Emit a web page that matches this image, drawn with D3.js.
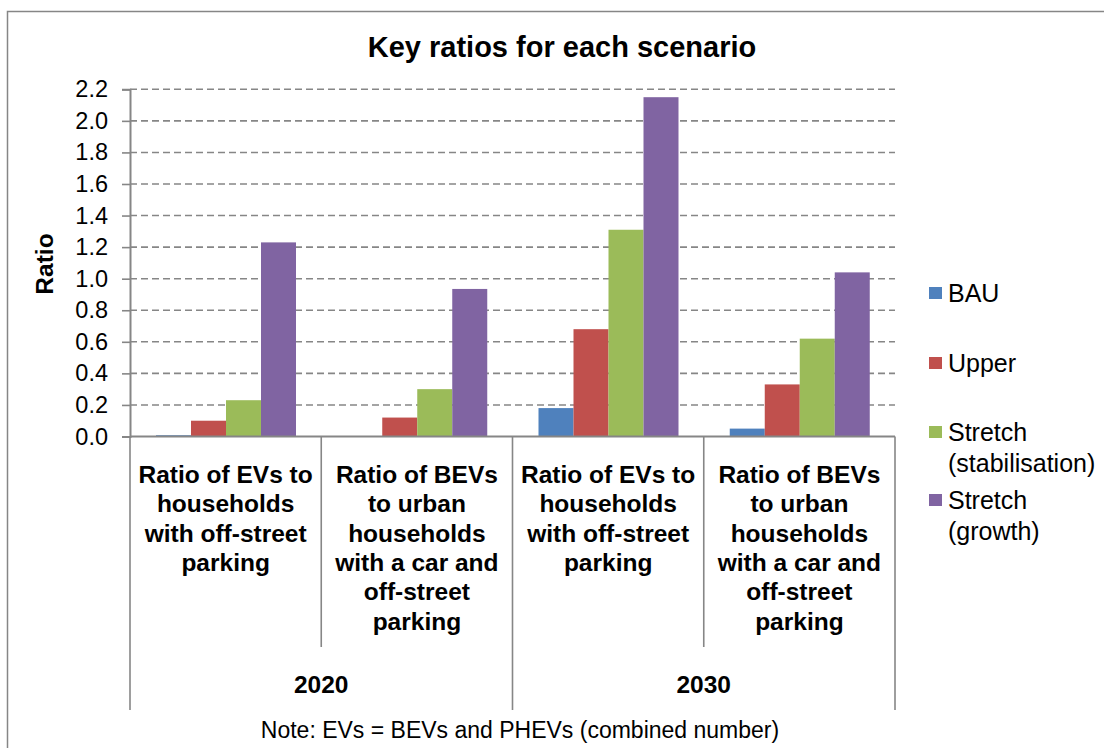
<!DOCTYPE html>
<html>
<head>
<meta charset="utf-8">
<script src="https://cdn.jsdelivr.net/npm/d3@7"></script>
<style>
  html, body { margin: 0; padding: 0; background: #fff; }
  svg { display: block; font-family: "Liberation Sans", Arial, sans-serif; }
</style>
</head>
<body>
<svg id="chart" width="1104" height="748"></svg>
<script>
// ---- data ----
const categories = ["2020 EVs", "2020 BEVs", "2030 EVs", "2030 BEVs"];
const categoryLabels = [
  ["Ratio of EVs to", "households", "with off-street", "parking"],
  ["Ratio of BEVs", "to urban", "households", "with a car and", "off-street", "parking"],
  ["Ratio of EVs to", "households", "with off-street", "parking"],
  ["Ratio of BEVs", "to urban", "households", "with a car and", "off-street", "parking"]
];
const years = ["2020", "2030"];
const seriesNames = ["BAU", "Upper", "Stretch (stabilisation)", "Stretch (growth)"];
const legendLines = [["BAU"], ["Upper"], ["Stretch", "(stabilisation)"], ["Stretch", "(growth)"]];
const colors = ["#4F81BD", "#C0504D", "#9BBB59", "#8064A2"];
const bau     = [0.008, 0.0, 0.18, 0.05];
const upper   = [0.10, 0.12, 0.68, 0.33];
const stabil  = [0.23, 0.30, 1.31, 0.62];
const growth  = [1.23, 0.935, 2.15, 1.04];
const seriesValues = [bau, upper, stabil, growth];
const yTicks = [0, 0.2, 0.4, 0.6, 0.8, 1.0, 1.2, 1.4, 1.6, 1.8, 2.0, 2.2];
const title = "Key ratios for each scenario";
const yTitle = "Ratio";
const note = "Note: EVs = BEVs and PHEVs (combined number)";

// ---- layout ----
const svg = d3.select("#chart");
const plotL = 130, plotR = 895, plotT = 89.3, plotB = 436.5;
const axisColor = "#868686";

svg.append("rect").attr("x", 7.5).attr("y", 11.5).attr("width", 1200).attr("height", 800)
  .attr("fill", "#fff").attr("stroke", axisColor).attr("stroke-width", 1.5);

const y = d3.scaleLinear().domain([0, 2.2]).range([plotB, plotT]);
const x0 = d3.scaleBand().domain(categories).range([plotL, plotR]).padding(0);
const x1 = d3.scaleBand().domain(seriesNames).range([26, x0.bandwidth() - 25.25]).padding(0);

// gridlines
svg.append("g").selectAll("line").data(yTicks.filter(d => d > 0)).join("line")
  .attr("x1", plotL).attr("x2", plotR)
  .attr("y1", d => y(d)).attr("y2", d => y(d))
  .attr("stroke", axisColor).attr("stroke-width", 1.6).attr("stroke-dasharray", "7,4");

// bars
const bars = svg.append("g");
seriesNames.forEach((s, si) => {
  bars.append("g").selectAll("rect").data(seriesValues[si]).join("rect")
    .attr("x", (d, i) => x0(categories[i]) + x1(s))
    .attr("width", x1.bandwidth())
    .attr("y", d => y(d))
    .attr("height", d => y(0) - y(d))
    .attr("fill", colors[si]);
});

// y axis
const yAxis = d3.axisLeft(y).tickValues(yTicks).tickFormat(d3.format(".1f")).tickSize(8).tickPadding(14);
const ya = svg.append("g").attr("transform", `translate(${plotL},0)`).call(yAxis);
ya.select(".domain").attr("stroke", axisColor).attr("stroke-width", 2);
ya.selectAll(".tick line").attr("stroke", axisColor).attr("stroke-width", 1.6);
ya.selectAll(".tick text").attr("font-size", 23.5).attr("fill", "#000")
  .attr("font-family", "Liberation Sans, Arial, sans-serif");

// x axis baseline
svg.append("line").attr("x1", plotL).attr("x2", plotR).attr("y1", y(0)).attr("y2", y(0))
  .attr("stroke", axisColor).attr("stroke-width", 2);

// category separators
const sepXs = categories.map(c => x0(c)).concat([plotR]);
svg.append("g").selectAll("line").data(sepXs).join("line")
  .attr("x1", d => d).attr("x2", d => d)
  .attr("y1", y(0)).attr("y2", (d, i) => (i % 2 === 0 ? 710 : 647))
  .attr("stroke", axisColor).attr("stroke-width", 1.6);

// category labels
const catG = svg.append("g");
categories.forEach((c, i) => {
  const t = catG.append("text").attr("x", x0(c) + x0.bandwidth() / 2).attr("y", 483)
    .attr("text-anchor", "middle").attr("font-size", 24.5).attr("font-weight", "bold").attr("fill", "#000");
  categoryLabels[i].forEach((ln, li) => {
    t.append("tspan").attr("x", x0(c) + x0.bandwidth() / 2).attr("dy", li === 0 ? 0 : 29.3).text(ln);
  });
});

// year labels
years.forEach((yr, i) => {
  const cx = (x0(categories[i * 2]) + x0(categories[i * 2 + 1]) + x0.bandwidth()) / 2;
  svg.append("text").attr("x", cx).attr("y", 693).attr("text-anchor", "middle")
    .attr("font-size", 24.5).attr("font-weight", "bold").attr("fill", "#000").text(yr);
});

// title
svg.append("text").attr("x", 562).attr("y", 57).attr("text-anchor", "middle")
  .attr("font-size", 29).attr("font-weight", "bold").attr("fill", "#000").text(title);

// y title
svg.append("text").attr("transform", "translate(53,264) rotate(-90)")
  .attr("text-anchor", "middle").attr("font-size", 24.5).attr("font-weight", "bold").attr("fill", "#000").text(yTitle);

// note
svg.append("text").attr("x", 520).attr("y", 738).attr("text-anchor", "middle")
  .attr("font-size", 23).attr("fill", "#000").text(note);

// legend
const legendY = [293, 363, 432, 500];
const lg = svg.append("g");
seriesNames.forEach((s, i) => {
  lg.append("rect").attr("x", 929).attr("y", legendY[i] - 6).attr("width", 13).attr("height", 12).attr("fill", colors[i]);
  const t = lg.append("text").attr("x", 948).attr("y", legendY[i] + 8.5)
    .attr("font-size", 25).attr("fill", "#000");
  legendLines[i].forEach((ln, li) => {
    t.append("tspan").attr("x", 948).attr("dy", li === 0 ? 0 : 31).text(ln);
  });
});
</script>
</body>
</html>
